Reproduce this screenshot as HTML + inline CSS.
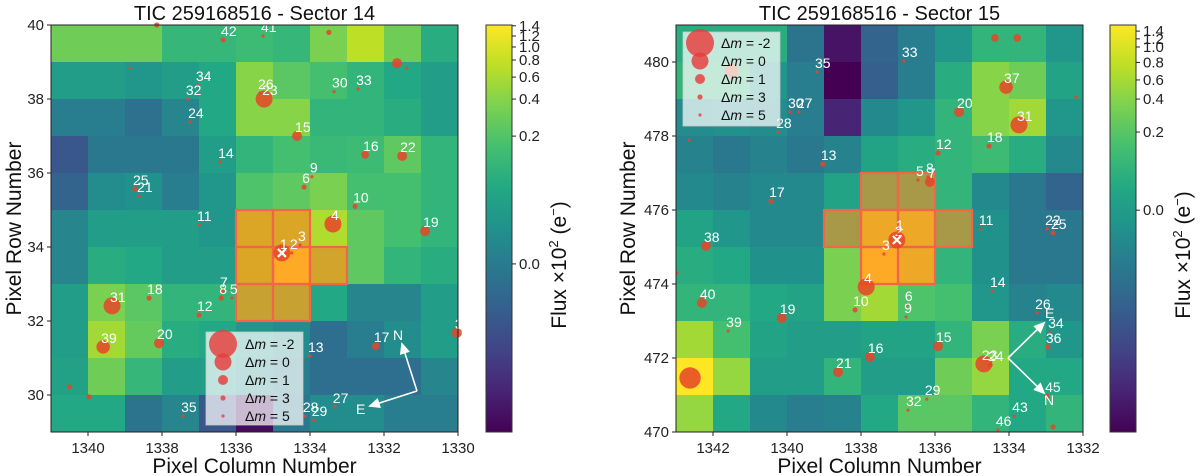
<!DOCTYPE html>
<html><head><meta charset="utf-8">
<style>
html,body{margin:0;padding:0;background:#fff;}
svg{display:block;font-family:"Liberation Sans","DejaVu Sans",sans-serif;}
</style></head>
<body>
<svg id="fig" width="1200" height="476" viewBox="0 0 1200 476" xmlns="http://www.w3.org/2000/svg">
<defs>
<linearGradient id="vir" x1="0" y1="1" x2="0" y2="0">
<stop offset="0" stop-color="#440154"/><stop offset="0.1" stop-color="#482475"/><stop offset="0.2" stop-color="#414487"/><stop offset="0.3" stop-color="#355f8d"/><stop offset="0.4" stop-color="#2a788e"/><stop offset="0.5" stop-color="#21918c"/><stop offset="0.6" stop-color="#22a884"/><stop offset="0.7" stop-color="#44bf70"/><stop offset="0.8" stop-color="#7ad151"/><stop offset="0.9" stop-color="#bddf26"/><stop offset="1" stop-color="#fde725"/>
</linearGradient>
</defs>
</svg>
<script>
// ---------- DATA ----------
const s14Vals = [
[0.78,0.78,0.78,0.66,0.66,0.68,0.66,0.8,0.9,0.78,0.62],
[0.55,0.55,0.52,0.55,0.6,0.82,0.74,0.7,0.65,0.6,0.55],
[0.42,0.42,0.37,0.45,0.6,0.82,0.82,0.65,0.65,0.62,0.55],
[0.27,0.4,0.4,0.4,0.55,0.65,0.7,0.67,0.68,0.75,0.65],
[0.32,0.48,0.5,0.42,0.52,0.72,0.75,0.8,0.7,0.7,0.65],
[0.45,0.55,0.55,0.55,0.52,0.9,0.9,0.88,0.75,0.7,0.65],
[0.45,0.62,0.6,0.55,0.55,0.9,1.0,0.88,0.75,0.65,0.62],
[0.55,0.8,0.74,0.65,0.65,0.85,0.85,0.6,0.45,0.45,0.55],
[0.55,0.86,0.76,0.62,0.6,0.52,0.48,0.36,0.42,0.48,0.55],
[0.57,0.78,0.66,0.55,0.55,0.48,0.42,0.36,0.36,0.36,0.45],
[0.6,0.6,0.38,0.45,0.27,0.03,0.4,0.48,0.48,0.42,0.42]
];
const s15Vals = [
[0.62,0.62,0.62,0.38,0.05,0.32,0.42,0.52,0.65,0.65,0.52],
[0.65,0.65,0.52,0.42,0.0,0.3,0.42,0.62,0.82,0.78,0.58],
[0.48,0.5,0.48,0.42,0.1,0.47,0.52,0.65,0.82,0.86,0.52],
[0.44,0.4,0.44,0.4,0.44,0.58,0.62,0.65,0.68,0.62,0.47],
[0.47,0.44,0.47,0.47,0.58,0.75,0.75,0.65,0.47,0.4,0.32],
[0.58,0.52,0.47,0.47,0.75,0.95,0.95,0.75,0.5,0.4,0.4],
[0.62,0.6,0.5,0.5,0.8,1.0,0.95,0.65,0.5,0.4,0.4],
[0.65,0.65,0.6,0.58,0.8,0.86,0.72,0.7,0.52,0.44,0.47],
[0.86,0.7,0.58,0.55,0.55,0.58,0.58,0.65,0.8,0.62,0.52],
[1.0,0.84,0.55,0.55,0.65,0.55,0.55,0.78,0.84,0.6,0.6],
[0.84,0.6,0.47,0.42,0.44,0.6,0.74,0.74,0.65,0.6,0.65]
];
const s14Aperture = [[1336,34],[1335,34],[1336,33],[1335,33],[1334,33],[1336,32],[1335,32]];
const s15Aperture = [[1338,476],[1337,476],[1339,475],[1338,475],[1337,475],[1336,475],[1338,474],[1337,474]];
const s14Labels = ["42","41","","","","","","34","32","26","23","30","33","24","15","14","16","22","9","6","25","21","10","11","4","19","3","1","2","7","8","5","18","31","12","39","20","13","17","3","","","35","28","29","27"];
const s14Cols = [1336.35,1335.27,1333.49,1338.14,1331.65,1331.38,1338.86,1337.03,1337.3,1335.35,1335.24,1333.35,1332.7,1337.24,1334.35,1336.43,1332.51,1331.51,1333.95,1334.16,1338.73,1338.62,1332.78,1337.0,1333.38,1330.89,1334.27,1334.76,1334.49,1336.38,1336.4,1336.11,1338.35,1339.35,1337.0,1339.59,1338.08,1334.0,1332.22,1330.03,1340.5,1339.97,1337.43,1334.14,1333.9,1333.33];
const s14Rows = [39.6,39.7,39.8,40.0,38.97,38.84,38.84,38.38,38.0,38.16,38.0,38.2,38.27,37.38,37.0,36.3,36.49,36.46,35.9,35.62,35.57,35.38,35.1,34.6,34.62,34.43,34.05,33.84,33.84,32.81,32.62,32.62,32.62,32.41,32.16,31.3,31.4,31.05,31.32,31.68,30.22,29.95,29.43,29.43,29.32,29.68];
const s14Dm = [3,5,3,3,1,5,5,5,5,5,0,5,5,5,1,5,2,1,5,3,3,5,3,5,0,1,5,0,5,3,3,5,3,0,3,0.5,1,5,2,1,3,3,5,5,5,5];
const s15Labels = ["","","33","35","","37","","30","27","20","31","28","","18","12","13","5","8","7","17","11","22","25","2","1","3","38","4","","14","40","10","6","9","19","26","39","34","36","15","16","23","24","21","","45","29","32","43","","46"];
const s15Cols = [1334.38,1333.78,1336.84,1339.19,1341.49,1334.08,1332.19,1339.92,1339.68,1335.35,1333.73,1340.24,1342.65,1334.54,1335.92,1339.03,1336.46,1336.19,1336.14,1340.43,1334.76,1332.97,1332.81,1337.03,1337.0,1337.38,1342.19,1337.86,1342.97,1334.46,1342.3,1338.16,1336.76,1336.78,1340.14,1333.24,1341.59,1332.89,1332.95,1335.92,1337.76,1334.68,1334.51,1338.62,1342.62,1332.97,1336.22,1336.73,1333.86,1332.81,1334.3];
const s15Rows = [480.65,480.65,480.03,479.73,479.76,479.32,479.05,478.65,478.65,478.65,478.3,478.11,477.89,477.73,477.54,477.24,476.81,476.89,476.76,476.24,475.49,475.49,475.38,475.19,475.35,474.81,475.03,473.92,474.3,473.81,473.49,473.3,473.43,473.11,473.08,473.22,472.73,472.7,472.3,472.32,472.03,471.84,471.81,471.62,471.46,470.97,470.89,470.59,470.43,470.14,470.05];
const s15Dm = [2,2,5,5,0.5,0.5,5,5,5,1,0,5,5,3,3,3,5,5,1,3,5,5,3,0,5,5,1,0,5,5,1,3,5,5,1,5,5,5,3,1,1,0,3,1,-0.8,3,5,5,5,3,5];
const s14XTicks = [1340,1338,1336,1334,1332,1330];
const s14YTicks = [30,32,34,36,38,40];
const s15XTicks = [1342,1340,1338,1336,1334,1332];
const s15YTicks = [470,472,474,476,478,480];
const cbarTicks = [0.0,0.2,0.4,0.6,0.8,1.0,1.2,1.4];
const cbarFrac14 = [0.413,0.727,0.818,0.872,0.914,0.946,0.973,0.998];
const cbarFrac15 = [0.545,0.737,0.818,0.865,0.908,0.946,0.966,0.985];
const legendDm = [-2,0,1,3,5];

// ---------- DRAW ----------
const NS="http://www.w3.org/2000/svg";
const svg=document.getElementById('fig');
function mk(tag,attrs,parent){const e=document.createElementNS(NS,tag);for(const k in attrs)e.setAttribute(k,attrs[k]);(parent||svg).appendChild(e);return e;}
const vStops=[[68,1,84],[72,36,117],[65,68,135],[53,95,141],[42,120,142],[33,145,140],[34,168,132],[68,191,112],[122,209,81],[189,223,38],[253,231,37]];
function viridis(v){v=Math.max(0,Math.min(1,v));const p=v*10,i=Math.min(9,Math.floor(p)),f=p-i;const a=vStops[i],b=vStops[i+1];return 'rgb('+a.map((c,k)=>Math.round(c+(b[k]-c)*f)).join(',')+')';}
function radius(dm){const t=[[-2,14],[0,8.5],[1,5],[3,2.6],[5,1.6]];if(dm<=-2)return 14;for(let i=0;i<t.length-1;i++){if(dm<=t[i+1][0]){const f=(dm-t[i][0])/(t[i+1][0]-t[i][0]);return t[i][1]+(t[i+1][1]-t[i][1])*f;}}return 1.6;}

function panel(o){
  const sx=c=>o.x0+(o.cMax-c)/(o.cMax-o.cMin)*(o.x1-o.x0);
  const sy=r=>o.y1-(r-o.rMin)/(o.rMax-o.rMin)*(o.y1-o.y0);
  const g=mk('g',{});
  
  
  const cg=mk('g',{},g);
  
  
  o.vals.forEach((row,ri)=>row.forEach((v,ci)=>{
    const cHi=o.cMax-ci, rHi=o.rMax-ri;
    const x=sx(cHi), y=sy(rHi), w=sx(cHi-1)-x, h=sy(rHi-1)-y;
    const r=mk('rect',{x:x,y:y,width:w+0.5,height:h+0.5,fill:viridis(v)},cg);
    
    
  }));
  const ag=mk('g',{},g);
  
  
  o.ap.forEach(([c,r])=>{
    const x=sx(c),y=sy(r+1),w=sx(c-1)-x,h=sy(r)-y;
    const a=mk('rect',{x:x,y:y,width:w,height:h,fill:'rgba(255,95,40,0.45)',stroke:'#f2654a','stroke-width':2.2},ag);
    
    
  });
  const sg=mk('g',{},g);
  
  
  o.cols.forEach((c,i)=>{
    const x=sx(c),y=sy(o.rows[i]),rr=radius(o.dm[i]);
    const s=mk('circle',{cx:x,cy:y,r:rr,fill:'rgba(232,68,40,0.85)'},sg);
    
    
    if(o.labels[i]===o.target){
      mk('path',{d:`M${x-4} ${y-4}L${x+4} ${y+4}M${x+4} ${y-4}L${x-4} ${y+4}`,stroke:'#fff','stroke-width':2.2},sg);
    }
    if(o.labels[i]){
      const t=mk('text',{x:x-2,y:y-4,fill:'#fff','font-size':14},sg);
      t.textContent=o.labels[i];
      
      
    }
  });
  const cp=mk('g',{stroke:'#fff',fill:'#fff','stroke-width':1.6},g);
  
  
  const ox=o.compass[0],oy=o.compass[1];
  [[o.compass[2],o.compass[3],o.compass[4]],[o.compass[5],o.compass[6],o.compass[7]]].forEach(([tx,ty,lab],k)=>{
    mk('line',{x1:ox,y1:oy,x2:tx,y2:ty},cp);
    const ang=Math.atan2(ty-oy,tx-ox),L=9,W=4;
    const bx=tx-L*Math.cos(ang),by=ty-L*Math.sin(ang);
    mk('polygon',{points:`${tx},${ty} ${bx+W*Math.sin(ang)},${by-W*Math.cos(ang)} ${bx-W*Math.sin(ang)},${by+W*Math.cos(ang)}`},cp);
    const t=mk('text',{x:o.compassLab[k][0],y:o.compassLab[k][1],'font-size':14,stroke:'none'},cp);
    t.textContent=lab;
  });
  const lg=mk('g',{},g);
  
  
  const L=o.legend;
  mk('rect',{x:L.x,y:L.y,width:L.w,height:L.h,fill:'rgba(255,255,255,0.72)',stroke:'rgba(200,200,200,0.8)','stroke-width':1},lg);
  legendDm.forEach((dm,i)=>{
    const cy=L.y+L.first+i*L.step;
    const c=mk('circle',{cx:L.mx,cy:cy,r:radius(dm),fill:'rgba(232,60,60,0.82)'},lg);
    
    
    const t=mk('text',{x:L.tx,y:cy+5,'font-size':14,fill:'#111'},lg);
    t.innerHTML='Δ<tspan font-style="italic">m</tspan> = '+(dm<0?' ':'  ')+dm;
    
    
  });
  mk('rect',{x:o.x0,y:o.y0,width:o.x1-o.x0,height:o.y1-o.y0,fill:'none',stroke:'#222','stroke-width':1},g);
  const tg=mk('g',{'font-size':15,fill:'#222'},g);
  
  
  o.xt.forEach(v=>{const x=sx(v);mk('line',{x1:x,y1:o.y1,x2:x,y2:o.y1+4,stroke:'#222'},tg);const t=mk('text',{x:x,y:o.y1+21,'text-anchor':'middle'},tg);t.textContent=v;});
  o.yt.forEach(v=>{const y=sy(v);mk('line',{x1:o.x0-4,y1:y,x2:o.x0,y2:y,stroke:'#222'},tg);const t=mk('text',{x:o.x0-7,y:y+5,'text-anchor':'end'},tg);t.textContent=v;});
  const tt=mk('text',{x:(o.x0+o.x1)/2,y:20,'text-anchor':'middle','font-size':20,fill:'#111'},g);
  tt.textContent=o.title;
  
  
  const xl=mk('text',{x:(o.x0+o.x1)/2,y:473,'text-anchor':'middle','font-size':21,fill:'#111'},g);
  xl.textContent='Pixel Column Number';
  
  
  const yx=o.ylx, yy=(o.y0+o.y1)/2;
  const yl=mk('text',{x:yx,y:yy,'text-anchor':'middle','font-size':21,fill:'#111',transform:`rotate(-90 ${yx} ${yy})`},g);
  yl.textContent='Pixel Row Number';
  
  
  const cb=mk('g',{},g);
  
  
  mk('rect',{x:o.cbx,y:o.y0,width:26,height:o.y1-o.y0,fill:'url(#vir)',stroke:'#333','stroke-width':1},cb);
  cbarTicks.forEach((v,i)=>{
    const y=o.y1-o.cbFrac[i]*(o.y1-o.y0);
    mk('line',{x1:o.cbx+26,y1:y,x2:o.cbx+30,y2:y,stroke:'#222'},cb);
    const t=mk('text',{x:o.cbx+33,y:y+5,'font-size':15,fill:'#222'},cb);
    t.textContent=v.toFixed(1);
  });
  const lx=o.cbx+80, ly=o.cbLabY;
  const cl=mk('text',{x:lx,y:ly,'text-anchor':'middle','font-size':21,fill:'#111',transform:`rotate(-90 ${lx} ${ly})`},cb);
  cl.innerHTML='Flux ×10<tspan dy="-8" font-size="13">2</tspan><tspan dy="8"> (e</tspan><tspan dy="-8" font-size="13">−</tspan><tspan dy="8">)</tspan>';
  
  
}

panel({name:'sector-14-panel',title:'TIC 259168516 - Sector 14',vals:s14Vals,ap:s14Aperture,
  x0:51,x1:458,y0:25,y1:432,cMax:1341,cMin:1330,rMin:29,rMax:40,
  cols:s14Cols,rows:s14Rows,dm:s14Dm,labels:s14Labels,target:'1',
  xt:s14XTicks,yt:s14YTicks,ylx:21,cbx:486,cbFrac:cbarFrac14,cbLabY:265,
  compass:[417,391,402,344,'N',370,406,'E'],compassLab:[[393,340],[356,414]],
  legend:{x:206,y:332,w:97,h:93,first:12,step:18,mx:223,tx:245}});
panel({name:'sector-15-panel',title:'TIC 259168516 - Sector 15',vals:s15Vals,ap:s15Aperture,
  x0:676,x1:1083,y0:25,y1:432,cMax:1343,cMin:1332,rMin:470,rMax:481,
  cols:s15Cols,rows:s15Rows,dm:s15Dm,labels:s15Labels,target:'2',
  xt:s15XTicks,yt:s15YTicks,ylx:635,cbx:1110,cbFrac:cbarFrac15,cbLabY:255,
  compass:[1008,358,1044,323,'E',1044,393,'N'],compassLab:[[1045,318],[1044,405]],
  legend:{x:683,y:32,w:97,h:94,first:11,step:18,mx:700,tx:721}});
</script>
</body></html>
